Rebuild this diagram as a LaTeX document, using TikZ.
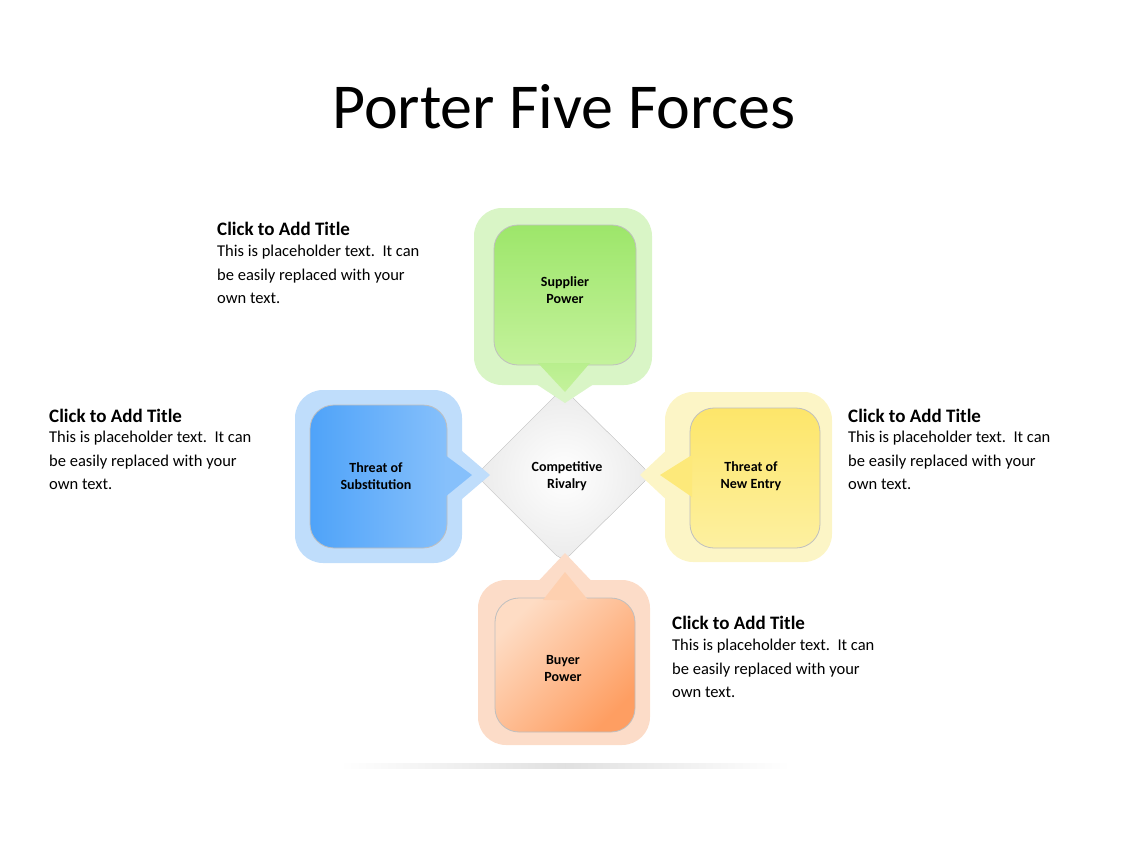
\documentclass[tikz,border=0pt]{standalone}
\usepackage{fontspec}
\setmainfont{Carlito}
\begin{document}
\begin{tikzpicture}[x=1pt,y=-1pt]
\useasboundingbox (0,0) rectangle (1128,846);
\tikzset{
 outer/.style={rounded corners=28pt},
 innerb/.style={rounded corners=24pt, draw=black!25, line width=0.8pt},
 lab/.style={font=\bfseries\fontsize{14}{17}\selectfont, align=center},
 ttl/.style={anchor=north west, font=\bfseries\fontsize{19}{23}\selectfont, inner sep=0},
 body/.style={anchor=north west, font=\fontsize{16.5}{23.5}\selectfont, align=left, inner sep=0}
}
\definecolor{gO}{HTML}{D9F5C6}\definecolor{gA}{HTML}{9DE66A}\definecolor{gB}{HTML}{C4F29C}
\definecolor{bO}{HTML}{BFDDFB}\definecolor{bA}{HTML}{4FA3F9}\definecolor{bB}{HTML}{86C0FB}
\definecolor{yO}{HTML}{FCF5C6}\definecolor{yA}{HTML}{FDE66A}\definecolor{yB}{HTML}{FDF0A0}
\definecolor{oO}{HTML}{FCDCC8}\definecolor{oA}{HTML}{FEDCC4}\definecolor{oB}{HTML}{FE9E62}
\node (title) at (564,107) {\fontsize{64}{70}\selectfont Porter Five Forces};
% shadow
\shade[left color=white, right color=white, middle color=black!12] (340,763) rectangle (790,768);
% diamond
\filldraw[draw=black!15, inner color=white, outer color=black!8, rounded corners=10pt]
 (563,388) -- (651,475) -- (563,562) -- (476,475) -- cycle;
\node[lab] (riv) at (567,476) {Competitive\\Rivalry};
% green top
\fill[gO, outer] (474,208) rectangle (652,385);
\fill[gO] (530,380) -- (565,403) -- (600,380) -- cycle;
\shade[innerb, top color=gA, bottom color=gB] (494,225) rectangle (636,365);
\shade[top color=gB!70!gA, bottom color=gB] (538,363) -- (565,392) -- (590,363) -- cycle;
\node[lab] (sup) at (565,290) {Supplier\\Power};
% blue left
\fill[bO, outer] (295,390) rectangle (462,563);
\fill[bO] (455,445) -- (490,475) -- (455,505) -- cycle;
\shade[innerb, left color=bA, right color=bB] (310,405) rectangle (447,548);
\fill[bB] (445,455) -- (472,475) -- (445,497) -- cycle;
\node[lab] (sub) at (376,476) {Threat of\\Substitution};
% yellow right
\fill[yO, outer] (665,392) rectangle (832,562);
\fill[yO] (672,445) -- (640,475) -- (672,505) -- cycle;
\shade[innerb, top color=yA, bottom color=yB] (690,408) rectangle (820,548);
\fill[yA!70!yB] (692,455) -- (660,475) -- (692,497) -- cycle;
\node[lab] (ent) at (751,476) {Threat of\\New Entry};
% orange bottom
\fill[oO, outer] (478,580) rectangle (650,745);
\fill[oO] (530,590) -- (565,553) -- (600,590) -- cycle;
\shade[innerb, left color=oA, right color=oB, shading angle=45] (495,598) rectangle (635,732);
\fill[oA!80!oB] (543,600) -- (565,572) -- (588,600) -- cycle;
\node[lab] (buy) at (563,669) {Buyer\\Power};
% texts
\node[ttl] (t1) at (217,222) {Click to Add Title};
\node[body] (b1) at (217,245) {This is placeholder text.\ \ It can\\be easily replaced with your\\own text.};
\node[ttl] (t2) at (49,409) {Click to Add Title};
\node[body] (b2) at (49,431) {This is placeholder text.\ \ It can\\be easily replaced with your\\own text.};
\node[ttl] (t3) at (848,409) {Click to Add Title};
\node[body] (b3) at (848,431) {This is placeholder text.\ \ It can\\be easily replaced with your\\own text.};
\node[ttl] (t4) at (672,616) {Click to Add Title};
\node[body] (b4) at (672,639) {This is placeholder text.\ \ It can\\be easily replaced with your\\own text.};
\end{tikzpicture}
\end{document}
